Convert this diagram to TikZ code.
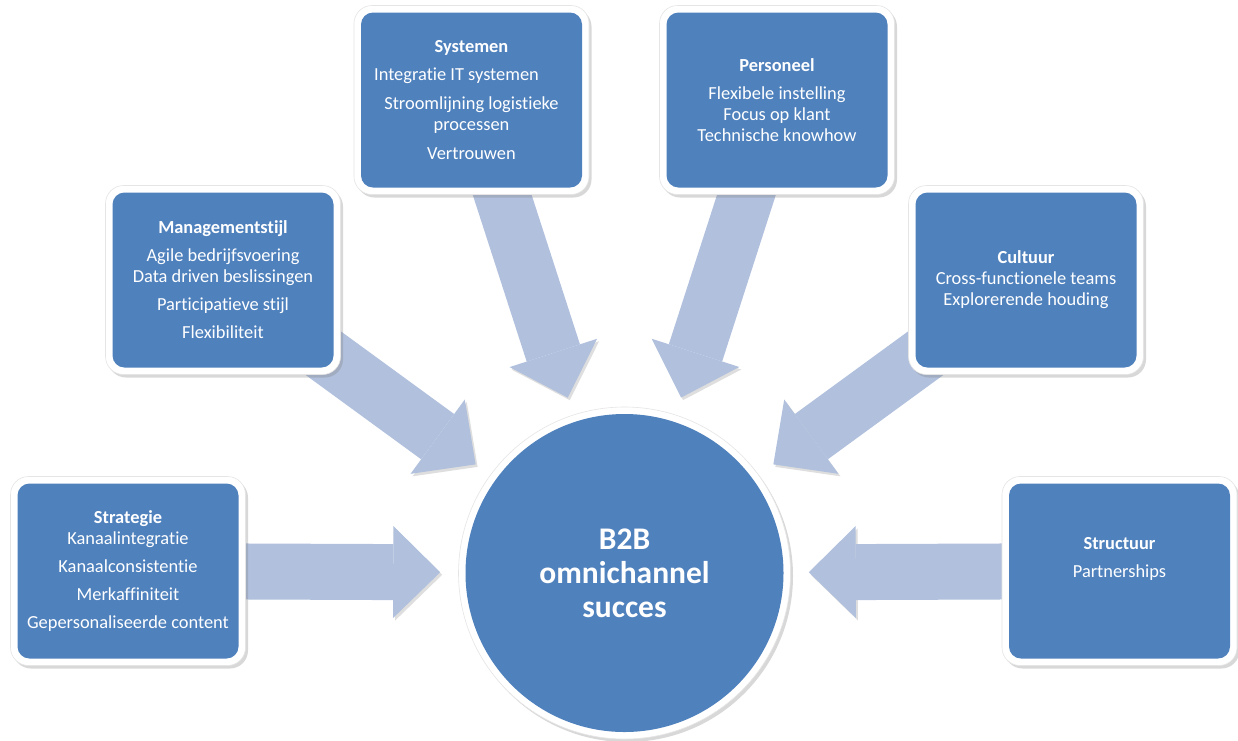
\documentclass[tikz,border=0pt]{standalone}
\usepackage{fontspec}
\setmainfont{Carlito}[Ligatures=NoCommon]
\usetikzlibrary{arrows.meta,shadows,backgrounds}
\definecolor{boxb}{RGB}{79,129,189}
\definecolor{arrb}{RGB}{176,192,221}

\begin{document}
\begin{tikzpicture}[x=1pt,y=-1pt,font=\fontsize{18.4}{21}\selectfont,
  card/.style={fill=white,draw=black!10,line width=0.6pt,rounded corners=18pt,text=white,
               minimum width=235pt,minimum height=189pt,inner sep=2pt,align=center,
               drop shadow={shadow xshift=2.5pt,shadow yshift=-3pt,opacity=0.3},
               path picture={\fill[boxb,rounded corners=12pt]
                 ([shift={(7pt,7pt)}]path picture bounding box.south west) rectangle
                 ([shift={(-7pt,-7pt)}]path picture bounding box.north east);}},
  hub/.style={circle,fill=white,draw=black!10,line width=0.6pt,text=white,minimum size=332pt,
              inner sep=0pt,align=center,font=\fontsize{31.5}{34}\selectfont\bfseries,
              drop shadow={shadow xshift=2.5pt,shadow yshift=-3pt,opacity=0.3},
              path picture={\fill[boxb] (path picture bounding box.center) circle (159pt);}},
  feed/.style={draw=arrb,line width=56pt,shorten >=18pt,
               -{Triangle[length=47pt,width=92pt,line width=0pt]},
               preaction={draw=black!13,transform canvas={shift={(2pt,-2.5pt)}}}}]
  \useasboundingbox (0,0) rectangle (1238,740);

  % ---------- centre ----------
  \node[hub] (hub) at (624.5,573) {B2B\\omnichannel\\succes};

  % ---------- factors round it ----------
  \node[card] (strat) at (128,571) {\textbf{Strategie}\\Kanaalintegratie\\[7pt]Kanaalconsistentie\\[7pt]Merkaffiniteit\\[7pt]Gepersonaliseerde content};
  \node[card] (mgmt) at (223,280) {\textbf{Managementstijl}\\[7pt]Agile bedrijfsvoering\\Data driven beslissingen\\[7pt]Participatieve stijl\\[7pt]Flexibiliteit};
  \node[card] (sys) at (471.5,100) {\textbf{Systemen}\\[7pt]Integratie IT systemen\hspace{30pt}\mbox{}\\[8pt]Stroomlijning logistieke\\processen\\[8pt]Vertrouwen};
  \node[card] (pers) at (777,100) {\textbf{Personeel}\\[7pt]Flexibele instelling\\Focus op klant\\Technische knowhow};
  \node[card] (cult) at (1026,280) {\textbf{Cultuur}\\Cross-functionele teams\\Explorerende houding};
  \node[card] (struc) at (1119.5,571) {\textbf{Structuur}\\[7pt]Partnerships\\[7pt]\mbox{}};

  % ---------- block arrows, behind the boxes ----------
  \begin{scope}[on background layer]
    \fill[white] (0,0) rectangle (1238,740);
    \draw[feed] (strat.center) -- (hub);
    \draw[feed] (mgmt.center) -- (hub);
    \draw[feed] (sys.center) -- (hub);
    \draw[feed] (pers.center) -- (hub);
    \draw[feed] (cult.center) -- (hub);
    \draw[feed] (struc.center) -- (hub);
  \end{scope}
\end{tikzpicture}
\end{document}
